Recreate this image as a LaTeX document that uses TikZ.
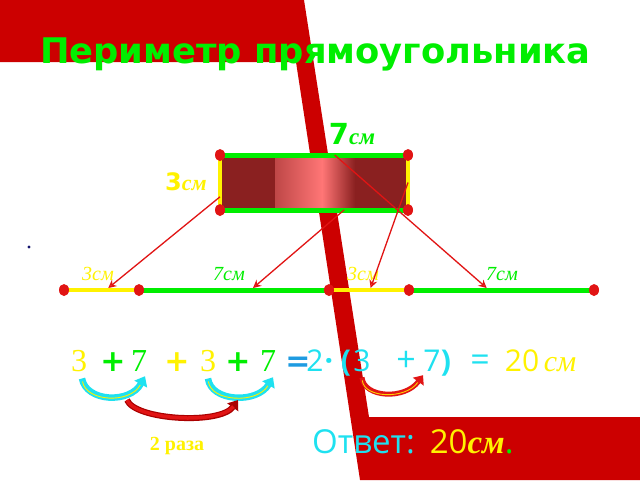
\documentclass[tikz,border=0pt]{standalone}
\usepackage{fontspec}
\setmainfont{Liberation Serif}
\setsansfont{DejaVu Sans}
\newfontfamily\opensans{Open Sans}
\usetikzlibrary{positioning,arrows.meta,shapes.geometric,calc}
\definecolor{bandred}{RGB}{204,0,0}
\definecolor{lgreen}{RGB}{0,238,0}
\definecolor{lyellow}{RGB}{255,242,0}
\definecolor{lcyan}{RGB}{30,225,240}
\definecolor{lblue}{RGB}{30,155,225}
\definecolor{rectdark}{RGB}{138,32,32}
\definecolor{rectpink}{RGB}{255,118,118}
\definecolor{arrred}{RGB}{225,20,20}
\definecolor{deepred}{RGB}{170,0,0}
\definecolor{navydot}{RGB}{20,20,110}
\newcommand{\serifbig}{\rmfamily\fontsize{32}{32}\selectfont}
\newcommand{\sansplus}{\sffamily\bfseries\fontsize{30}{30}\selectfont}
\newcommand{\sanscyan}{\opensans\fontsize{30}{30}\selectfont}
\newcommand{\sanscyanb}{\opensans\bfseries\fontsize{30}{30}\selectfont}
\newcommand{\eqsym}[5]{\node[eqpart, text=#3, font=#4] (#1) at (#2,371) {#5};}
\tikzset{
  reddot/.style={ellipse, fill=arrred, minimum width=10pt, minimum height=12pt, inner sep=0pt},
  longside/.style={lgreen, line width=5pt},
  shortside/.style={lyellow, line width=4.5pt},
  pointer/.style={arrred, line width=1.3pt, -{Stealth[open, length=8pt, width=8pt]}},
  seglabel/.style={anchor=base, inner sep=0pt, font=\rmfamily\itshape\fontsize{20}{20}\selectfont},
  eqpart/.style={anchor=base, inner sep=0pt},
  cyanarc/.style={lcyan, line width=6.5pt, -{Triangle[length=9pt, width=14pt]},
    postaction={draw=lyellow, line width=0.9pt, -, shorten >=10pt, shorten <=3pt}},
  redarc/.style={deepred, line width=6pt, -{Triangle[length=9pt, width=13pt]},
    postaction={draw=arrred, line width=3.5pt, -, shorten >=8pt}},
  orangearc/.style={arrred, line width=5pt, -{Triangle[length=8pt, width=13pt]},
    postaction={draw=lyellow!70!orange, line width=0.9pt, -, shorten >=9pt, shorten <=3pt}}
}
\begin{document}
\begin{tikzpicture}[x=1pt,y=-1pt]
  \useasboundingbox (0,0) rectangle (640,480);
  \fill[white] (0,0) rectangle (640,480);
  % background band
  \fill[bandred] (0,0) -- (304,0) -- (369,417) -- (640,417) -- (640,480)
    -- (360,480) -- (296,62) -- (0,62) -- cycle;
  \fill[navydot] (29,247) circle[radius=1.6pt];

  % title
  \node[anchor=base west, inner sep=0pt, text=lgreen,
    font=\sffamily\bfseries\fontsize{35.3}{35.3}\selectfont] (title) at (40,63) {Периметр прямоугольника};

  % rectangle
  \coordinate (tl) at (220,155);
  \coordinate (tr) at (408,155);
  \coordinate (bl) at (220,210);
  \coordinate (br) at (408,210);
  \fill[rectdark] (tl) rectangle (br);
  \shade[left color=rectdark!55!rectpink, right color=rectpink] (275,157) rectangle (322,208);
  \shade[left color=rectpink, right color=rectdark] (322,157) rectangle (355,208);
  \draw[longside] (tl) -- (tr);
  \draw[longside] (bl) -- (br);
  \draw[shortside] (tl) -- (bl);
  \draw[shortside] (tr) -- (br);
  \node[reddot] (tldot) at (tl) {};
  \node[reddot] (trdot) at (tr) {};
  \node[reddot] (bldot) at (bl) {};
  \node[reddot] (brdot) at (br) {};

  \node[anchor=base, inner sep=0pt, text=lgreen] (toplabel) at (352,144)
    {{\sffamily\bfseries\fontsize{29}{29}\selectfont 7}{\rmfamily\bfseries\itshape\fontsize{23}{23}\selectfont см}};
  \node[anchor=base, inner sep=0pt, text=lyellow] (leftlabel) at (186,190)
    {{\sffamily\bfseries\fontsize{24}{24}\selectfont 3}{\rmfamily\bfseries\itshape\fontsize{22}{22}\selectfont см}};

  % unrolled sides
  \coordinate (p1) at (64,290);
  \coordinate (p2) at (139,290);
  \coordinate (p3) at (329,290);
  \coordinate (p4) at (409,290);
  \coordinate (p5) at (594,290);
  \draw[shortside] (p1) -- (p2);
  \draw[longside] (p2) -- (p3);
  \draw[shortside] (p3) -- (p4);
  \draw[longside] (p4) -- (p5);
  \foreach \p in {p1,p2,p3,p4,p5}
    \node[reddot] (\p dot) at (\p) {};

  \node[seglabel, text=lyellow] (lab1) at (98,280) {3см};
  \node[seglabel, text=lgreen] (lab2) at (229,280) {7см};
  \node[seglabel, text=lyellow] (lab3) at (363,280) {3см};
  \node[seglabel, text=lgreen] (lab4) at (502,280) {7см};

  % arrows side -> segment
  \coordinate (s1) at ($(tl)!0.76!(bl)$);
  \coordinate (s2) at ($(bl)!0.66!(br)$);
  \coordinate (s3) at ($(tr)!0.5!(br)$);
  \coordinate (s4) at ($(tl)!0.61!(tr)$);
  \coordinate (t1) at ($(p1)!0.59!(p2)+(0,-2)$);
  \coordinate (t2) at ($(p2)!0.6!(p3)+(0,-2)$);
  \coordinate (t3) at ($(p3)!0.52!(p4)+(0,-2)$);
  \coordinate (t4) at ($(p4)!0.42!(p5)+(0,-2)$);
  \foreach \s/\t in {s1/t1,s2/t2,s3/t3,s4/t4}
    \draw[pointer] (\s) -- (\t);

  % equation
  \eqsym{e1}{79}{lyellow}{\serifbig}{3}
  \eqsym{e2}{113}{lgreen}{\sansplus}{+}
  \eqsym{e3}{139}{lgreen}{\serifbig}{7}
  \eqsym{e4}{177}{lyellow}{\sansplus}{+}
  \eqsym{e5}{208}{lyellow}{\serifbig}{3}
  \eqsym{e6}{238}{lgreen}{\sansplus}{+}
  \eqsym{e7}{268}{lgreen}{\serifbig}{7}
  \eqsym{e8}{298}{lblue}{\sansplus}{=}
  \eqsym{e9}{315}{lcyan}{\sanscyan}{2}
  \eqsym{e10}{329}{lcyan}{\sanscyanb}{·}
  \eqsym{e11}{346}{lcyan}{\sanscyanb}{(}
  \eqsym{e12}{362}{lcyan}{\sanscyan}{3}
  \eqsym{e13}{406}{lcyan}{\opensans\fontsize{34}{34}\selectfont}{+}
  \eqsym{e14}{432}{lcyan}{\sanscyan}{7}
  \eqsym{e15}{446}{lcyan}{\sanscyanb}{)}
  \eqsym{e16}{480}{lcyan}{\opensans\fontsize{34}{34}\selectfont}{=}
  \eqsym{e17}{522}{lyellow}{\sanscyan}{20}
  \eqsym{e18}{560}{lyellow}{\rmfamily\itshape\fontsize{30}{30}\selectfont}{см}

  % curved arrows
  \draw[cyanarc] ($(e1.south)+(3,7)$) .. controls (86,402) and (130,404) .. ($(e3.south)+(6,5)$);
  \draw[cyanarc] ($(e5.south)+(0,7)$) .. controls (211,402) and (257,404) .. ($(e7.south)+(5,6)$);
  \coordinate (twostart) at (127,400);
  \coordinate (twoend) at (238,400);
  \draw[redarc] (twostart) .. controls (135,420) and (220,425) .. (twoend);
  \draw[orangearc] ($(e12.south)+(0,6)$) .. controls (364,398) and (405,400) .. ($(e14.south)+(-9,4)$);
  \node[anchor=base, inner sep=0pt, text=lyellow,
    font=\rmfamily\bfseries\fontsize{20}{20}\selectfont] (twice) at (177,450) {2 раза};

  % answer
  \node[anchor=base west, inner sep=0pt, font=\opensans\fontsize{33}{33}\selectfont] (answer) at (312,453)
    {{\color{lcyan}Ответ:}\hspace{15pt}{\color{lyellow}20}{\color{lyellow}\rmfamily\bfseries\itshape см}{\color{lgreen}.}};
\end{tikzpicture}
\end{document}
